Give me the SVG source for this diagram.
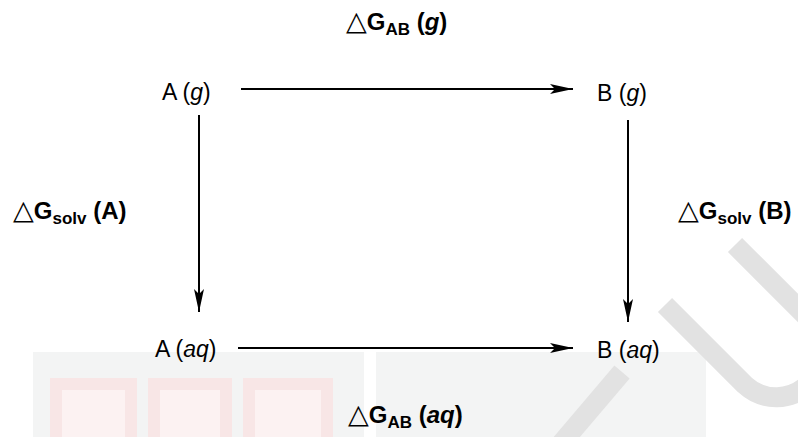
<svg xmlns="http://www.w3.org/2000/svg" width="798" height="437" viewBox="0 0 798 437">
<style>
.lbl{font-family:"Liberation Sans",Arial,sans-serif;font-size:23px;fill:#000}
.dg{font-family:"Liberation Sans",Arial,sans-serif;font-size:24px;font-weight:bold;fill:#000}
.tri{font-family:"DejaVu Sans",sans-serif;font-weight:normal;font-size:27px}
.sub{font-size:17px}
.conn{stroke:#000;stroke-width:2;fill:none}
.wm{fill:none;stroke:#e2e2e2;stroke-width:20}
.blk{fill:#fcf2f2;stroke:#f8e6e6;stroke-width:12}
</style>
<defs>
<marker id="ah" markerUnits="userSpaceOnUse" markerWidth="24" markerHeight="10" refX="23" refY="5" orient="auto"><path d="M0,0 L23,5 L0,10 L5,5 z" fill="#000"/></marker>
</defs>
<rect width="798" height="437" fill="#fff"/>
<g id="watermark">
<rect x="33" y="352" width="331" height="85" fill="#f3f4f4"/>
<rect x="376" y="352" width="330" height="85" fill="#f3f4f4"/>
<rect class="blk" x="56" y="384" width="75" height="60"/>
<rect class="blk" x="154" y="384" width="72" height="60"/>
<rect class="blk" x="249" y="384" width="78" height="60"/>
<path class="wm" d="M622,372 L560,445"/>
<path class="wm" d="M665,305 L745,385 A46,46 0 0 0 810,320 L735,245"/>
</g>
<g id="connectors">
<path class="conn" d="M241,89 L573,89" marker-end="url(#ah)"/>
<path class="conn" d="M199,115 L199,312" marker-end="url(#ah)"/>
<path class="conn" d="M628,120 L628,322" marker-end="url(#ah)"/>
<path class="conn" d="M238,348 L573,348" marker-end="url(#ah)"/>
</g>
<g id="node-Ag"><text class="lbl" x="162" y="100">A (<tspan font-style="italic">g</tspan>)</text></g>
<g id="node-Bg"><text class="lbl" x="597" y="101">B (<tspan font-style="italic">g</tspan>)</text></g>
<g id="node-Aaq"><text class="lbl" x="155" y="357">A (<tspan font-style="italic">aq</tspan>)</text></g>
<g id="node-Baq"><text class="lbl" x="597" y="358">B (<tspan font-style="italic">aq</tspan>)</text></g>
<g id="label-GABg"><text class="dg" x="346" y="30"><tspan class="tri">△</tspan>G<tspan class="sub" dy="5">AB</tspan><tspan dy="-5"> (</tspan><tspan font-style="italic">g</tspan>)</text></g>
<g id="label-GsolvA"><text class="dg" x="13" y="219"><tspan class="tri">△</tspan>G<tspan class="sub" dy="5">solv</tspan><tspan dy="-5"> (A)</tspan></text></g>
<g id="label-GsolvB"><text class="dg" x="678" y="219"><tspan class="tri">△</tspan>G<tspan class="sub" dy="5">solv</tspan><tspan dy="-5"> (B)</tspan></text></g>
<g id="label-GABaq"><text class="dg" x="348" y="423"><tspan class="tri">△</tspan>G<tspan class="sub" dy="5">AB</tspan><tspan dy="-5"> (</tspan><tspan font-style="italic">aq</tspan>)</text></g>
</svg>
